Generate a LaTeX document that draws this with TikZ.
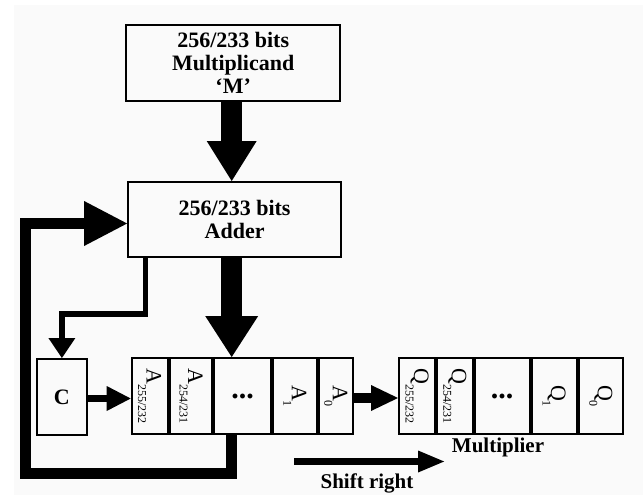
\documentclass[tikz,border=0pt]{standalone}
\usepackage{fontspec}
\setmainfont{Liberation Serif}
\usetikzlibrary{arrows.meta,positioning}

\tikzset{
  blk/.style={
    draw, line width=2pt,
    minimum width=#1, minimum height=76pt, inner sep=0pt,
    align=center, font=\bfseries\fontsize{22}{23}\selectfont
  },
  cell/.style={
    draw, line width=2pt,
    minimum width=#1, minimum height=76pt, inner sep=0pt
  },
  dots/.style={font=\bfseries\fontsize{30}{30}\selectfont},
  lbl/.style={font=\bfseries\fontsize{21}{21}\selectfont},
  % shaft width / head length / head width
  arr/.style n args={3}{
    line width=#1,
    -{Triangle[length=#2,width=#3,line width=0pt]}
  }
}

% register bit, written top to bottom
\newcommand{\regbit}[2]{%
  \rotatebox{-90}{\fontsize{22}{22}\selectfont #1%
    \raisebox{-8.5pt}{\fontsize{12}{12}\selectfont #2}}}

\begin{document}
\begin{tikzpicture}[x=1pt, y=-1pt]

    \useasboundingbox (0,0) rectangle (643,495);
    \fill[white] (0,0) rectangle (643,495);
    \fill[black!2] (14,5) rectangle (643,495);

    %% Blocks
    \node[blk=214.5pt] (mcand) at (233.2,63)
      {256/233 bits\\Multiplicand\\`M'};
    \node[blk=213pt, minimum height=75pt] (adder) at (234.6,219.5)
      {256/233 bits\\Adder};
    \node[blk=50pt, font=\bfseries\fontsize{22}{22}\selectfont] (cbox) at (61.9,397) {C};

    %% Accumulator A
    \node[cell=36pt] (a255) at (149.7,396) {\regbit{A}{255/232}};
    \node[cell=42.6pt, right=0pt of a255] (a254) {\regbit{A}{254/231}};
    \node[cell=56.4pt, right=0pt of a254, dots] (adots) {...};
    \node[cell=44.3pt, right=0pt of adots] (a1) {\regbit{A}{1}};
    \node[cell=33.5pt, right=0pt of a1] (a0) {\regbit{A}{0}};

    %% Multiplier Q
    \node[cell=36pt] (q255) at (417,396) {\regbit{Q}{255/232}};
    \node[cell=35.7pt, right=0pt of q255] (q254) {\regbit{Q}{254/231}};
    \node[cell=55pt, right=0pt of q254, dots] (qdots) {...};
    \node[cell=45pt, right=0pt of qdots] (q1) {\regbit{Q}{1}};
    \node[cell=44.3pt, right=0pt of q1] (q0) {\regbit{Q}{0}};

    \node[lbl] (mlabel) at (498,447) {Multiplier};
    \node[lbl] (slabel) at (367,483) {Shift right};

    %% Helper points
    \coordinate (mid) at (231.7,0);
    \coordinate (ctap) at (145.5,314);
    \coordinate (fb) at (25,473.5);
    \coordinate (sr0) at (294.4,461.5);
    \coordinate (sr1) at (444.1,461.5);

    %% Data paths
    \draw[arr={20.5pt}{40pt}{50pt}] (mcand.south -| mid) -- (adder.north -| mid);
    \draw[arr={20.5pt}{41pt}{53pt}] (adder.south -| mid) -- (adots.north -| mid);
    \draw[arr={5.5pt}{20pt}{27pt}] (adder.south -| ctap) -- (ctap)
      -- (ctap -| cbox.north) -- (cbox.north);
    \draw[arr={7pt}{24pt}{25pt}] ([yshift=-1.5pt]cbox.east) -- ([yshift=-1.5pt]cbox.east -| a255.west);
    \draw[arr={10pt}{27pt}{26pt}] ([yshift=-2pt]a0.east) -- ([yshift=-2pt]q255.west);

    %% Feedback loop
    \draw[arr={11pt}{43pt}{45pt}] (adots.south -| mid) |- (fb)
      |- ([yshift=-4pt]adder.west);

    %% Shift direction
    \draw[arr={7pt}{26pt}{22pt}] (sr0) -- (sr1);

\end{tikzpicture}
\end{document}
